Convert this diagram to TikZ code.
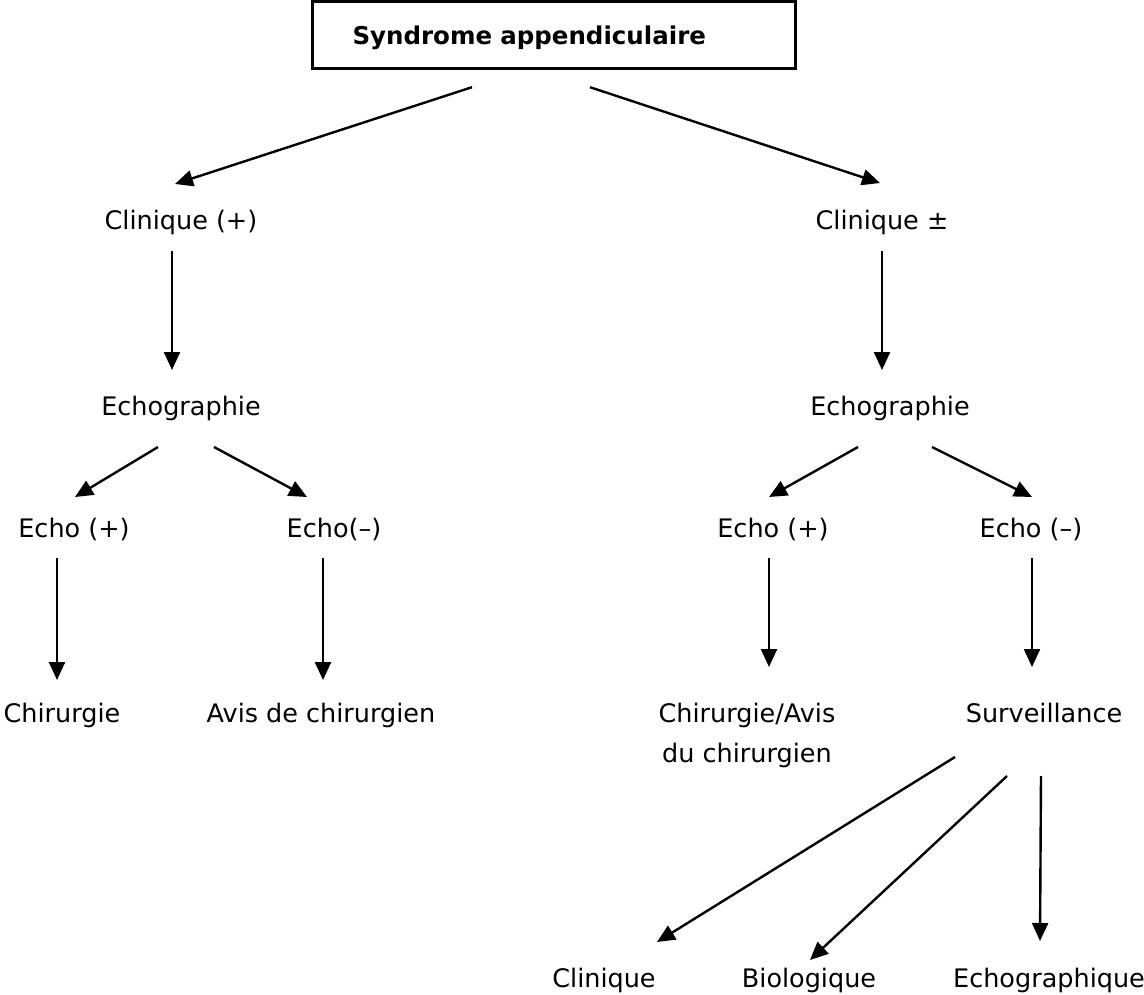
\documentclass[tikz,border=0pt]{standalone}
\usepackage{fontspec}
\setmainfont{DejaVu Sans}
\usetikzlibrary{arrows.meta,calc}
\tikzset{
  lbl/.style={anchor=base,inner sep=0pt,font=\fontsize{25.5pt}{40pt}\selectfont},
  arr/.style={line width=2.4pt,-{Triangle[length=18pt,width=16pt]}},
  titlebox/.style={draw,line width=2.4pt,minimum width=483pt,minimum height=67pt,
    text width=403pt,inner xsep=40pt,inner ysep=0pt,align=left,
    text height=22pt,text depth=2pt,font=\bfseries\fontsize{24.5pt}{28pt}\selectfont}
}
\begin{document}
\begin{tikzpicture}[x=1pt,y=-1pt]
\useasboundingbox (0,0) rectangle (1144,995);
\node[titlebox] (title) at (554,35) {Syndrome appendiculaire};
\node[lbl] (cp) at (181,230) {Clinique (+)};
\node[lbl] (cpm) at (882,230) {Clinique ±};
\node[lbl] (e1) at (181,415) {Echographie};
\node[lbl] (e2) at (890,415) {Echographie};
\node[lbl] (e1p) at (74,537) {Echo (+)};
\node[lbl] (e1m) at (334,537) {Echo(–)};
\node[lbl] (e2p) at (773,537) {Echo (+)};
\node[lbl] (e2m) at (1031,537) {Echo (–)};
\node[lbl] (ch) at (62,722) {Chirurgie};
\node[lbl] (av) at (321,722) {Avis de chirurgien};
\node[lbl,align=center] (cha) at (747,762) {Chirurgie/Avis\\du chirurgien};
\node[lbl] (sv) at (1044,722) {Surveillance};
\node[lbl] (bc) at (604,987) {Clinique};
\node[lbl] (bb) at (809,987) {Biologique};
\node[lbl] (be) at (1049,987) {Echographique};

\draw[arr] ($(title.south)+(-82,17.5)$) -- ($(cp.base)+(-6,-46)$);
\draw[arr] ($(title.south)+(36,17.5)$) -- ($(cpm.base)+(-2,-47)$);
\draw[arr] ($(cp.base)+(-9,21)$) -- ($(e1.base)+(-9,-45)$);
\draw[arr] ($(cpm.base)+(0,21)$) -- ($(e2.base)+(-8,-45)$);
\draw[arr] ($(e1.base)+(-23,32)$) -- ($(e1p.base)+(1,-40)$);
\draw[arr] ($(e1.base)+(33,32)$) -- ($(e1m.base)+(-27,-40)$);
\draw[arr] ($(e2.base)+(-32,32)$) -- ($(e2p.base)+(-4,-40)$);
\draw[arr] ($(e2.base)+(42,32)$) -- ($(e2m.base)+(1,-40)$);
\draw[arr] ($(e1p.base)+(-17,21)$) -- ($(ch.base)+(-5,-42)$);
\draw[arr] ($(e1m.base)+(-11,21)$) -- ($(av.base)+(2,-42)$);
\draw[arr] ($(e2p.base)+(-4,21)$) -- ($(cha.base)+(22,-95)$);
\draw[arr] ($(e2m.base)+(1,21)$) -- ($(sv.base)+(-12,-55)$);
\draw[arr] ($(sv.base)+(-89,35)$) -- ($(bc.base)+(53,-45)$);
\draw[arr] ($(sv.base)+(-37,54)$) -- ($(bb.base)+(1,-27)$);
\draw[arr] ($(sv.base)+(-3,54)$) -- ($(be.base)+(-9,-46)$);
\end{tikzpicture}
\end{document}
